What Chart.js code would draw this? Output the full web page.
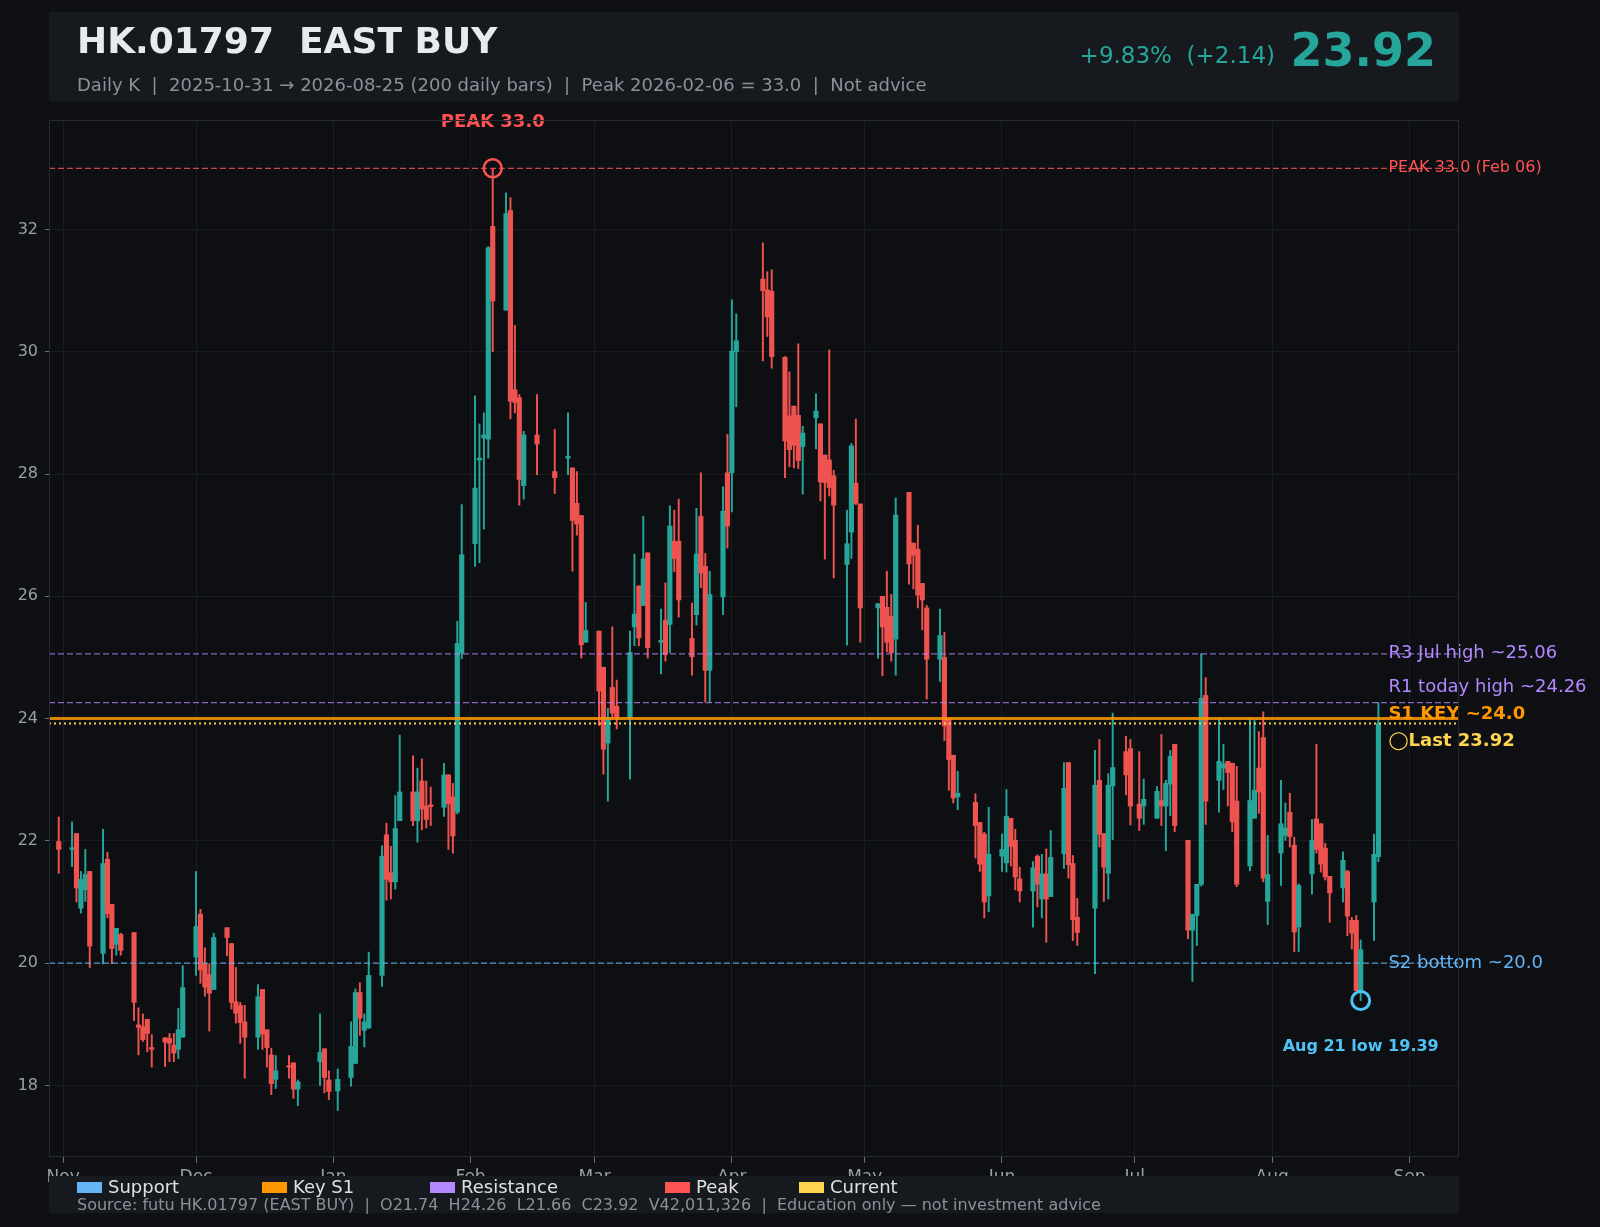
<!DOCTYPE html>
<html>
<head>
<meta charset="utf-8">
<script src="https://cdn.jsdelivr.net/npm/chart.js@4.4.1/dist/chart.umd.min.js"></script>
<style>
  html, body { margin: 0; padding: 0; background: #0e1013; }
  canvas { display: block; }
</style>
</head>
<body>
<canvas id="chart" width="1600" height="1227"></canvas>
<script>
// ---- data ----
const dates = [
  "2025-10-31",
  "2025-11-03","2025-11-04","2025-11-05","2025-11-06","2025-11-07","2025-11-10","2025-11-11","2025-11-12","2025-11-13","2025-11-14",
  "2025-11-17","2025-11-18","2025-11-19","2025-11-20","2025-11-21","2025-11-24","2025-11-25","2025-11-26","2025-11-27","2025-11-28",
  "2025-12-01","2025-12-02","2025-12-03","2025-12-04","2025-12-05","2025-12-08","2025-12-09","2025-12-10","2025-12-11","2025-12-12",
  "2025-12-15","2025-12-16","2025-12-17","2025-12-18","2025-12-19","2025-12-22","2025-12-23","2025-12-24","2025-12-29","2025-12-30","2025-12-31",
  "2026-01-02","2026-01-05","2026-01-06","2026-01-07","2026-01-08","2026-01-09","2026-01-12","2026-01-13","2026-01-14","2026-01-15","2026-01-16",
  "2026-01-19","2026-01-20","2026-01-21","2026-01-22","2026-01-23","2026-01-26","2026-01-27","2026-01-28","2026-01-29","2026-01-30",
  "2026-02-02","2026-02-03","2026-02-04","2026-02-05","2026-02-06","2026-02-09","2026-02-10","2026-02-11","2026-02-12","2026-02-13",
  "2026-02-16","2026-02-20","2026-02-23","2026-02-24","2026-02-25","2026-02-26","2026-02-27",
  "2026-03-02","2026-03-03","2026-03-04","2026-03-05","2026-03-06","2026-03-09","2026-03-10","2026-03-11","2026-03-12","2026-03-13",
  "2026-03-16","2026-03-17","2026-03-18","2026-03-19","2026-03-20","2026-03-23","2026-03-24","2026-03-25","2026-03-26","2026-03-27","2026-03-30","2026-03-31",
  "2026-04-01","2026-04-02","2026-04-08","2026-04-09","2026-04-10","2026-04-13","2026-04-14","2026-04-15","2026-04-16","2026-04-17",
  "2026-04-20","2026-04-21","2026-04-22","2026-04-23","2026-04-24","2026-04-27","2026-04-28","2026-04-29","2026-04-30",
  "2026-05-04","2026-05-05","2026-05-06","2026-05-07","2026-05-08","2026-05-11","2026-05-12","2026-05-13","2026-05-14","2026-05-15",
  "2026-05-18","2026-05-19","2026-05-20","2026-05-21","2026-05-22","2026-05-26","2026-05-27","2026-05-28","2026-05-29",
  "2026-06-01","2026-06-02","2026-06-03","2026-06-04","2026-06-05","2026-06-08","2026-06-09","2026-06-10","2026-06-11","2026-06-12",
  "2026-06-15","2026-06-16","2026-06-17","2026-06-18","2026-06-22","2026-06-23","2026-06-24","2026-06-25","2026-06-26","2026-06-29","2026-06-30",
  "2026-07-02","2026-07-03","2026-07-06","2026-07-07","2026-07-08","2026-07-09","2026-07-10","2026-07-13","2026-07-14","2026-07-15","2026-07-16","2026-07-17",
  "2026-07-20","2026-07-21","2026-07-22","2026-07-23","2026-07-24","2026-07-27","2026-07-28","2026-07-29","2026-07-30","2026-07-31",
  "2026-08-03","2026-08-04","2026-08-05","2026-08-06","2026-08-07","2026-08-10","2026-08-11","2026-08-12","2026-08-13","2026-08-14",
  "2026-08-17","2026-08-18","2026-08-19","2026-08-20","2026-08-21","2026-08-24","2026-08-25"
];

const open = [
  21.99,
  21.86,22.12,20.90,21.20,21.50,20.16,21.70,20.96,20.31,20.47,20.50,18.99,18.96,19.08,18.62,18.78,18.77,18.66,18.59,18.79,
  20.10,20.80,19.99,19.81,19.57,20.58,20.32,19.37,19.31,19.04,18.79,19.57,18.91,18.50,18.10,18.32,18.37,17.94,18.39,18.60,18.09,
  17.91,18.13,18.36,19.52,18.90,18.94,19.80,22.10,21.48,21.33,22.33,22.80,22.33,22.98,22.57,22.59,22.55,23.08,22.72,22.47,25.07,
  26.86,28.23,28.59,28.57,32.05,30.68,32.31,29.38,29.25,27.81,28.64,28.04,28.26,28.10,27.52,27.32,25.25,
  25.43,24.84,23.60,24.51,24.20,24.01,25.50,26.17,25.85,26.71,25.25,25.61,25.54,26.90,26.90,25.31,25.70,27.31,26.49,24.79,25.99,28.02,
  28.02,30.00,31.19,31.01,30.99,29.91,28.95,29.11,28.96,28.45,28.92,28.82,28.31,28.23,27.97,26.52,27.05,27.85,27.51,
  25.81,26.00,25.82,25.67,25.30,27.70,26.87,26.77,26.21,25.81,24.97,25.00,24.00,23.40,22.72,22.63,22.30,22.11,21.10,
  21.75,21.64,22.37,22.01,21.38,21.18,21.75,21.05,21.46,21.09,21.79,23.28,21.63,20.75,20.90,22.99,22.12,21.47,22.90,23.46,23.51,
  22.60,22.57,22.37,22.66,22.57,22.93,23.58,22.01,20.54,20.78,21.29,24.38,22.99,23.19,23.30,23.27,22.65,21.59,22.37,23.19,23.69,21.01,
  21.80,22.09,22.47,21.93,20.59,21.46,22.36,22.28,21.88,21.42,21.23,21.50,20.70,20.70,19.55,21.00,21.74
];
const high = [
  22.39,
  22.31,22.12,21.50,21.86,21.50,22.19,21.81,20.96,20.57,20.49,20.50,19.27,19.17,19.08,18.83,18.78,18.85,18.85,19.26,19.96,
  21.50,20.88,20.25,19.99,20.49,20.58,20.32,19.93,19.36,19.31,19.65,19.57,18.91,18.61,18.49,18.49,18.37,18.09,19.17,18.60,18.24,
  18.27,19.04,19.58,19.68,19.17,20.18,21.92,22.29,21.91,22.74,23.73,23.39,23.19,23.34,22.98,22.88,23.27,23.08,22.94,25.59,27.50,
  29.28,28.82,29.00,31.72,33.00,32.60,32.52,30.43,29.30,28.70,29.30,28.73,29.00,28.10,28.04,27.32,25.90,
  25.43,24.84,24.17,25.50,24.63,25.43,26.69,26.17,27.31,26.71,25.79,26.22,27.48,27.41,27.59,25.89,27.44,28.02,26.70,26.41,27.79,28.65,
  30.85,30.62,31.78,31.31,31.34,29.92,29.67,29.11,30.13,28.78,29.31,28.82,28.31,30.03,28.06,27.41,28.50,28.90,27.51,
  25.88,26.00,26.41,26.03,27.61,27.70,26.87,27.16,26.21,25.85,25.79,25.41,24.00,23.40,23.14,22.77,22.30,22.14,22.55,
  22.11,22.84,22.37,22.19,21.57,21.66,21.77,21.78,21.87,22.17,23.28,23.28,21.76,21.06,23.48,23.66,22.12,23.10,24.09,23.71,23.66,
  23.46,23.01,22.89,23.74,22.99,23.48,23.58,22.01,20.80,21.29,25.06,24.67,24.00,23.58,23.30,23.27,23.22,24.00,23.97,23.79,24.11,22.09,
  22.99,22.62,22.78,22.06,21.30,22.35,23.58,22.28,21.96,21.42,21.82,21.52,20.75,20.78,20.38,22.11,24.26
];
const low = [
  21.47,
  21.58,21.00,20.82,21.01,19.93,19.99,20.74,19.99,20.13,20.13,19.06,18.50,18.72,18.55,18.30,18.31,18.39,18.39,18.44,18.79,
  19.80,19.67,19.46,18.89,19.57,20.12,19.25,19.02,18.69,18.12,18.59,18.59,18.30,17.85,17.95,18.12,17.79,17.67,18.00,17.88,17.77,
  17.59,17.99,18.36,18.82,18.63,18.93,19.62,21.03,21.05,21.21,22.33,22.25,21.98,22.18,22.21,22.25,22.40,21.86,21.80,22.44,24.98,
  26.49,26.55,27.10,28.26,30.00,30.68,28.90,29.00,27.49,27.59,27.99,27.68,27.99,26.41,27.00,24.99,25.25,
  23.89,23.09,22.65,24.00,23.83,23.01,25.19,25.19,25.85,24.99,24.73,24.94,25.08,26.40,25.66,24.71,25.53,26.14,24.27,24.27,25.70,26.79,
  27.38,29.10,29.85,30.25,29.73,27.94,28.12,28.10,28.09,27.67,28.41,27.56,26.61,27.64,26.30,25.20,26.62,27.50,25.25,
  24.99,24.70,25.09,24.94,24.71,26.20,26.12,25.81,25.45,24.32,24.61,23.64,22.83,22.62,22.51,21.72,21.50,20.74,20.84,
  21.50,21.49,21.59,21.20,21.00,20.59,20.92,20.74,20.34,21.09,21.55,21.39,20.37,20.29,19.83,21.90,21.01,21.05,22.02,22.75,22.26,
  22.17,22.27,22.37,22.25,21.84,22.41,22.15,20.40,19.70,20.29,21.26,22.27,22.47,22.84,22.57,22.15,21.25,21.51,22.37,22.45,21.33,20.63,
  21.27,22.01,21.90,20.19,20.19,21.13,21.80,21.49,21.36,20.67,21.00,20.45,20.23,19.55,19.39,20.37,21.66
];
const close = [
  21.86,
  21.89,21.23,21.37,21.45,20.28,21.63,20.81,20.24,20.57,20.21,19.36,18.95,18.75,18.85,18.59,18.71,18.69,18.53,18.91,19.60,
  20.60,19.89,19.61,19.51,20.42,20.42,19.36,19.18,19.03,18.79,19.45,18.84,18.62,18.03,18.24,18.30,17.94,18.06,18.54,18.13,17.90,
  18.10,18.64,19.52,19.10,19.04,19.80,21.75,21.37,21.33,22.20,22.80,22.33,22.80,22.52,22.35,22.56,23.08,22.61,22.08,25.23,26.68,
  27.77,28.26,28.64,31.70,30.83,32.26,29.19,29.17,27.91,28.64,28.49,27.94,28.29,27.24,27.18,25.21,25.44,
  24.45,23.50,24.01,24.09,24.02,25.08,25.71,25.32,26.61,25.16,25.28,25.05,27.15,26.62,25.94,25.01,26.69,26.38,24.79,26.03,27.39,27.15,
  30.01,30.18,31.00,30.57,29.92,28.54,28.40,28.47,28.22,28.67,29.03,27.87,27.86,27.78,27.49,26.86,28.46,27.52,25.81,
  25.88,25.50,25.25,25.08,27.33,26.53,26.67,26.02,25.94,24.97,25.36,23.88,23.33,22.70,22.78,22.25,21.62,21.00,21.78,
  21.86,22.40,21.91,21.41,21.18,21.56,21.29,21.46,21.05,21.73,22.86,21.61,20.71,20.50,22.91,22.11,21.57,22.91,23.20,23.08,22.57,
  22.37,22.68,22.81,22.57,22.94,23.38,22.25,20.54,20.80,21.29,24.33,22.65,23.30,23.26,23.12,22.31,21.29,22.66,22.83,22.80,21.39,21.45,
  22.28,22.21,22.07,20.51,21.27,22.01,21.86,21.62,21.41,21.15,21.68,20.77,20.49,19.55,20.22,21.78,23.92
];

const monthTickDates = ["2025-11-01","2025-12-01","2026-01-01","2026-02-01","2026-03-01","2026-04-01",
                        "2026-05-01","2026-06-01","2026-07-01","2026-08-01","2026-09-01"];
const monthLabels = ["Nov","Dec","Jan","Feb","Mar","Apr","May","Jun","Jul","Aug","Sep"];
const yTicks = [18, 20, 22, 24, 26, 28, 30, 32];

const levelValues = [33.0, 25.06, 24.26, 24.0, 23.92, 20.0];
const levelLabels = ["PEAK 33.0 (Feb 06)", "R3 Jul high ~25.06", "R1 today high ~24.26",
                     "S1 KEY ~24.0", "\u25EFLast 23.92", "S2 bottom ~20.0"];

const peakDate = "2026-02-06";
const recentLowDate = "2026-08-21";

const legendNames = ["Support", "Key S1", "Resistance", "Peak", "Current"];

// ---- helpers / styling ----
const UP = '#26a69a', DOWN = '#ef5350';
const FONT = '"DejaVu Sans", Verdana, sans-serif';
Chart.defaults.font.family = FONT;

const base = Date.UTC(2025, 9, 31);
function toDay(s) {
  const p = s.split('-').map(Number);
  return (Date.UTC(p[0], p[1] - 1, p[2]) - base) / 864e5;
}
const xs = dates.map(toDay);
const monthDays = monthTickDates.map(toDay);
const colors = close.map((c, i) => c >= open[i] ? UP : DOWN);

const X_MIN = -2.2, X_MAX = 316.2;
const Y_MIN = 16.83, Y_MAX = 33.79;

const peakIdx = dates.indexOf(peakDate);
const lowIdx = dates.indexOf(recentLowDate);

const levelStyle = [
  { line: 'rgba(239,83,80,0.85)',  w: 1.3, dash: [6, 3], text: '#ff5252', font: '16px', dy: 0 },
  { line: 'rgba(179,136,255,0.75)', w: 1.3, dash: [6, 3], text: '#b388ff', font: '18px', dy: 0 },
  { line: 'rgba(179,136,255,0.75)', w: 1.3, dash: [6, 3], text: '#b388ff', font: '18px', dy: -15 },
  { line: 'rgba(255,152,0,0.85)',  w: 3,   dash: [],     text: '#ff9800', font: 'bold 18px', dy: -4 },
  { line: 'rgba(255,213,79,0.95)', w: 2,   dash: [2, 3], text: '#ffd54f', font: 'bold 18px', dy: 18 },
  { line: 'rgba(100,181,246,0.8)', w: 1.3, dash: [6, 3], text: '#64b5f6', font: '18px', dy: 0 }
];
const legendColors = ['#64b5f6', '#ff9800', '#b388ff', '#ff5252', '#ffd54f'];
const legendX = [77, 262, 430, 665, 799];

const datasets = [];
levelValues.forEach((v, i) => {
  datasets.push({
    type: 'line', data: [{ x: X_MIN, y: v }, { x: X_MAX, y: v }],
    borderColor: levelStyle[i].line, borderWidth: levelStyle[i].w, borderDash: levelStyle[i].dash,
    pointRadius: 0, order: 1
  });
});
datasets.push({
  type: 'bar', data: xs.map((x, i) => ({ x: x, y: [low[i], high[i]] })),
  backgroundColor: colors, barThickness: 1.3, grouped: false, order: 3
});
datasets.push({
  type: 'bar', data: xs.map((x, i) => ({ x: x, y: [open[i], close[i]] })),
  backgroundColor: colors, barThickness: 4.5, grouped: false, minBarLength: 1.5, order: 2
});
datasets.push({
  type: 'scatter', data: [{ x: xs[peakIdx], y: high[peakIdx] }],
  pointRadius: 9, pointBorderWidth: 2.5, borderColor: '#ff5252', backgroundColor: 'rgba(0,0,0,0)', order: 0
});
datasets.push({
  type: 'scatter', data: [{ x: xs[lowIdx], y: low[lowIdx] }],
  pointRadius: 9, pointBorderWidth: 3, borderColor: '#4fc3f7', backgroundColor: 'rgba(0,0,0,0)', order: 0
});

const overlay = {
  id: 'overlay',
  beforeDraw(chart) {
    const { ctx, chartArea: a } = chart;
    ctx.save();
    ctx.fillStyle = '#0e1013';
    ctx.fillRect(0, 0, chart.width, chart.height);
    ctx.fillStyle = '#0d0f12';
    ctx.fillRect(a.left, a.top, a.right - a.left, a.bottom - a.top);
    ctx.restore();
  },
  afterDatasetsDraw(chart) {
    const { ctx, scales: { x, y }, chartArea: a } = chart;
    ctx.save();
    ctx.textBaseline = 'middle';
    const lx = x.getPixelForValue(xs[xs.length - 1]) + 10;
    levelValues.forEach((v, i) => {
      ctx.font = levelStyle[i].font + ' ' + FONT;
      ctx.fillStyle = levelStyle[i].text;
      ctx.textAlign = 'left';
      ctx.fillText(levelLabels[i], lx, y.getPixelForValue(v) + levelStyle[i].dy);
    });
    // peak / recent-low call-outs
    ctx.textAlign = 'center';
    ctx.font = 'bold 18px ' + FONT;
    ctx.fillStyle = '#ff5252';
    ctx.fillText('PEAK ' + high[peakIdx].toFixed(1), x.getPixelForValue(xs[peakIdx]), a.top + 2);
    ctx.font = 'bold 16px ' + FONT;
    ctx.fillStyle = '#4fc3f7';
    ctx.fillText('Aug 21 low ' + low[lowIdx].toFixed(2), x.getPixelForValue(xs[lowIdx]), y.getPixelForValue(low[lowIdx]) + 46);
    ctx.restore();
  },
  afterDraw(chart) {
    const { ctx, chartArea: a } = chart;
    ctx.save();
    // frame
    ctx.strokeStyle = '#262a30';
    ctx.lineWidth = 1;
    ctx.strokeRect(a.left + 0.5, a.top + 0.5, a.right - a.left - 1, a.bottom - a.top - 1);

    // header panel
    ctx.fillStyle = '#161a1e';
    ctx.fillRect(49, 12, 1410, 89);
    ctx.textBaseline = 'middle';
    ctx.textAlign = 'left';
    ctx.fillStyle = '#e8eaed';
    ctx.font = 'bold 36px ' + FONT;
    ctx.fillText('HK.01797  EAST BUY', 77, 44);
    ctx.fillStyle = '#8b9099';
    ctx.font = '18px ' + FONT;
    ctx.fillText('Daily K  |  2025-10-31 \u2192 2026-08-25 (200 daily bars)  |  Peak 2026-02-06 = 33.0  |  Not advice', 77, 86);
    const last = close[close.length - 1], prev = close[close.length - 2];
    const chg = last - prev;
    ctx.textAlign = 'right';
    ctx.fillStyle = UP;
    ctx.font = '23px ' + FONT;
    ctx.fillText('+' + (chg / prev * 100).toFixed(2) + '%  (+' + chg.toFixed(2) + ')', 1275, 57);
    ctx.font = 'bold 46px ' + FONT;
    ctx.fillText(last.toFixed(2), 1436, 54);

    // legend panel (drawn over the bottom of the month labels, as in the reference)
    ctx.fillStyle = '#161a1e';
    ctx.fillRect(49, 1176, 1410, 37);
    ctx.textAlign = 'left';
    ctx.font = '18px ' + FONT;
    legendNames.forEach((n, i) => {
      ctx.fillStyle = legendColors[i];
      ctx.fillRect(legendX[i], 1182, 25, 11);
      ctx.fillStyle = '#e0e0e0';
      ctx.fillText(n, legendX[i] + 31, 1188);
    });
    ctx.fillStyle = '#8b9099';
    ctx.font = '16px ' + FONT;
    ctx.fillText('Source: futu HK.01797 (EAST BUY)  |  O21.74  H24.26  L21.66  C23.92  V42,011,326  |  Education only \u2014 not investment advice', 77, 1206);
    ctx.restore();
  }
};

new Chart(document.getElementById('chart'), {
  type: 'bar',
  data: { datasets: datasets },
  options: {
    responsive: false,
    animation: false,
    devicePixelRatio: 1,
    layout: { padding: { top: 120, right: 141, bottom: 0, left: 0 } },
    plugins: { legend: { display: false }, tooltip: { enabled: false } },
    scales: {
      x: {
        type: 'linear', min: X_MIN, max: X_MAX, offset: false,
        afterBuildTicks: s => { s.ticks = monthDays.map(v => ({ value: v })); },
        afterFit: s => { s.height = 70; },
        ticks: {
          autoSkip: false, maxRotation: 0, padding: 4, color: '#9aa0a6', font: { size: 17 },
          callback: v => { const i = monthDays.indexOf(v); return i >= 0 ? monthLabels[i] : ''; }
        },
        grid: { color: '#1a1d22', tickColor: '#6b7078', tickLength: 6, offset: false },
        border: { display: false }
      },
      y: {
        type: 'linear', min: Y_MIN, max: Y_MAX,
        afterBuildTicks: s => { s.ticks = yTicks.map(v => ({ value: v })); },
        afterFit: s => { s.width = 49; },
        ticks: { padding: 7, color: '#9aa0a6', font: { size: 16 }, callback: v => String(v) },
        grid: { color: '#1a1d22', tickColor: '#6b7078', tickLength: 4 },
        border: { display: false }
      }
    }
  },
  plugins: [overlay]
});
</script>
</body>
</html>
